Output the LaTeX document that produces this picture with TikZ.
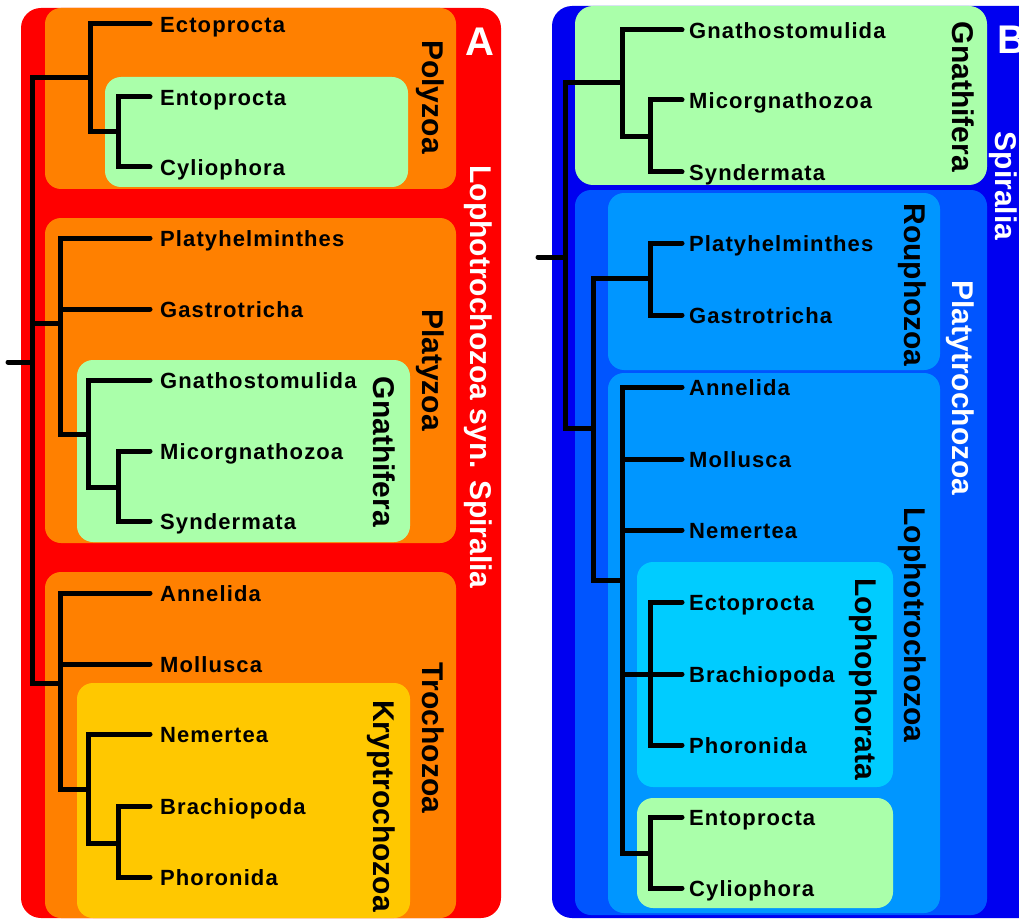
\documentclass[tikz,border=0pt]{standalone}
\usepackage{fontspec}
\setmainfont{Liberation Sans}
\newfontfamily\tipfamily[LetterSpace=5]{Liberation Sans}
\definecolor{redA}{RGB}{255,0,0}
\definecolor{orangeA}{RGB}{255,128,0}
\definecolor{greenL}{RGB}{170,255,170}
\definecolor{yellowA}{RGB}{255,200,0}
\definecolor{blueD}{RGB}{0,0,240}
\definecolor{blueM}{RGB}{0,85,255}
\definecolor{blueL}{RGB}{0,150,255}
\definecolor{cyanL}{RGB}{0,204,255}
\begin{document}
\begin{tikzpicture}[x=1pt,y=-1pt,
  tree/.style={line width=5pt, line cap=round, line join=miter, draw=black},
  tipA/.style={anchor=west, inner xsep=10pt, inner ysep=0pt, text height=17pt, text depth=0pt, font=\tipfamily\bfseries\fontsize{22}{24}\selectfont},
  tipB/.style={tipA, inner xsep=7pt},
  grp/.style={rotate=-90, inner sep=0pt, text height=22pt, text depth=0pt, font=\bfseries\fontsize{30}{32}\selectfont},
  grpw/.style={grp, text=white},
  panel/.style={text=white, inner sep=0pt, font=\bfseries\fontsize{40}{42}\selectfont}]
\useasboundingbox (0,0) rectangle (1019,920);
% ---------- Panel A boxes
\fill[redA, rounded corners=20pt] (21,8) rectangle (501,918);
\fill[orangeA, rounded corners=16pt] (45,8) rectangle (456,189);
\fill[greenL, rounded corners=16pt] (105,77) rectangle (408,187);
\fill[orangeA, rounded corners=16pt] (45,218) rectangle (456,543);
\fill[greenL, rounded corners=16pt] (77,360) rectangle (410,542);
\fill[orangeA, rounded corners=16pt] (45,572) rectangle (456,918);
\fill[yellowA, rounded corners=16pt] (77,683) rectangle (410,918);
% ---------- Panel B boxes
\begin{scope}
\clip (0,0) rectangle (1019,920);
\fill[blueD, rounded corners=20pt] (552,6) rectangle (1050,918);
\end{scope}
\fill[greenL, rounded corners=18pt] (575,6) rectangle (987,185);
\fill[blueM, rounded corners=16pt] (575,190) rectangle (987,915);
\fill[blueL, rounded corners=16pt] (608,193) rectangle (940,370);
\fill[blueL, rounded corners=16pt] (608,373) rectangle (940,913);
\fill[cyanL, rounded corners=16pt] (637,562) rectangle (893,787);
\fill[greenL, rounded corners=16pt] (637,798) rectangle (893,908);
% ---------- Panel A tips
\node[tipA] (ectoA) at (150,24) {Ectoprocta};
\node[tipA] (entoA) at (150,97) {Entoprocta};
\node[tipA] (cylA) at (150,167) {Cyliophora};
\node[tipA] (platyhA) at (150,238) {Platyhelminthes};
\node[tipA] (gastA) at (150,309) {Gastrotricha};
\node[tipA] (gnathoA) at (150,380) {Gnathostomulida};
\node[tipA] (microA) at (150,451) {Micorgnathozoa};
\node[tipA] (syndA) at (150,521) {Syndermata};
\node[tipA] (annA) at (150,593) {Annelida};
\node[tipA] (mollA) at (150,664) {Mollusca};
\node[tipA] (nemA) at (150,734) {Nemertea};
\node[tipA] (brachA) at (150,806) {Brachiopoda};
\node[tipA] (phorA) at (150,877) {Phoronida};
% ---------- Panel A internal nodes
\coordinate (stubA) at (8,362);
\coordinate (rootA) at (32,362);
\coordinate (polyA) at (90,78);
\coordinate (entcA) at (118,132);
\coordinate (platyA) at (60,323);
\coordinate (gnaA) at (88,434);
\coordinate (msA) at (118,487);
\coordinate (trochA) at (60,683);
\coordinate (kryA) at (88,789);
\coordinate (bpA) at (118,843);
% ---------- Panel A tree
\draw[tree] (stubA) -- (rootA);
\draw[tree] (rootA) |- (polyA);
\draw[tree] (rootA) |- (platyA);
\draw[tree] (rootA) |- (trochA);
\draw[tree] (polyA) |- (ectoA.west);
\draw[tree] (polyA) |- (entcA);
\draw[tree] (entcA) |- (entoA.west);
\draw[tree] (entcA) |- (cylA.west);
\draw[tree] (platyA) |- (platyhA.west);
\draw[tree] (platyA) |- (gastA.west);
\draw[tree] (platyA) |- (gnaA);
\draw[tree] (gnaA) |- (gnathoA.west);
\draw[tree] (gnaA) |- (msA);
\draw[tree] (msA) |- (microA.west);
\draw[tree] (msA) |- (syndA.west);
\draw[tree] (trochA) |- (annA.west);
\draw[tree] (trochA) |- (mollA.west);
\draw[tree] (trochA) |- (kryA);
\draw[tree] (kryA) |- (nemA.west);
\draw[tree] (kryA) |- (bpA);
\draw[tree] (bpA) |- (brachA.west);
\draw[tree] (bpA) |- (phorA.west);
% ---------- Panel A group labels
\node[panel] (labA) at (480,42) {A};
\node[grp] (polyL) at (433,97) {Polyzoa};
\node[grpw] (lophL) at (481,377) {Lophotrochozoa syn. Spiralia};
\node[grp] (platyL) at (433,370) {Platyzoa};
\node[grp] (gnaL) at (384,452) {Gnathifera};
\node[grp] (trochL) at (433,738) {Trochozoa};
\node[grp] (kryL) at (384,806) {Kryptrochozoa};
% ---------- Panel B tips
\node[tipB] (gnathoB) at (682,30) {Gnathostomulida};
\node[tipB] (microB) at (682,100) {Micorgnathozoa};
\node[tipB] (syndB) at (682,172) {Syndermata};
\node[tipB] (platyhB) at (682,243) {Platyhelminthes};
\node[tipB] (gastB) at (682,315) {Gastrotricha};
\node[tipB] (annB) at (682,387) {Annelida};
\node[tipB] (mollB) at (682,459) {Mollusca};
\node[tipB] (nemB) at (682,530) {Nemertea};
\node[tipB] (ectoB) at (682,602) {Ectoprocta};
\node[tipB] (brachB) at (682,674) {Brachiopoda};
\node[tipB] (phorB) at (682,745) {Phoronida};
\node[tipB] (entoB) at (682,817) {Entoprocta};
\node[tipB] (cylB) at (682,888) {Cyliophora};
% ---------- Panel B internal nodes
\coordinate (stubB) at (538,257);
\coordinate (rootB) at (565,257);
\coordinate (gnaB) at (622,83);
\coordinate (msB) at (650,137);
\coordinate (ptB) at (593,428);
\coordinate (rouB) at (650,278);
\coordinate (lophB) at (622,580);
\coordinate (lphB) at (650,674);
\coordinate (entcB) at (650,853);
% ---------- Panel B tree
\draw[tree] (stubB) -- (rootB);
\draw[tree] (rootB) |- (gnaB);
\draw[tree] (rootB) |- (ptB);
\draw[tree] (gnaB) |- (gnathoB.west);
\draw[tree] (gnaB) |- (msB);
\draw[tree] (msB) |- (microB.west);
\draw[tree] (msB) |- (syndB.west);
\draw[tree] (ptB) |- (rouB);
\draw[tree] (ptB) |- (lophB);
\draw[tree] (rouB) |- (platyhB.west);
\draw[tree] (rouB) |- (gastB.west);
\draw[tree] (lophB) |- (annB.west);
\draw[tree] (lophB) |- (mollB.west);
\draw[tree] (lophB) |- (nemB.west);
\draw[tree] (lophB) |- (lphB);
\draw[tree] (lophB) |- (entcB);
\draw[tree] (lphB) |- (ectoB.west);
\draw[tree] (lphB) -- (brachB.west);
\draw[tree] (lphB) |- (phorB.west);
\draw[tree] (entcB) |- (entoB.west);
\draw[tree] (entcB) |- (cylB.west);
% ---------- Panel B group labels
\node[panel] (labB) at (1012,40) {B};
\node[grpw] (spirL) at (1006,186) {Spiralia};
\node[grp] (gnaLB) at (963,97) {Gnathifera};
\node[grp] (rouL) at (915,285) {Rouphozoa};
\node[grpw] (ptL) at (963,388) {Platytrochozoa};
\node[grp] (lophLB) at (915,625) {Lophotrochozoa};
\node[grp] (lphL) at (866,679) {Lophophorata};
\end{tikzpicture}
\end{document}
